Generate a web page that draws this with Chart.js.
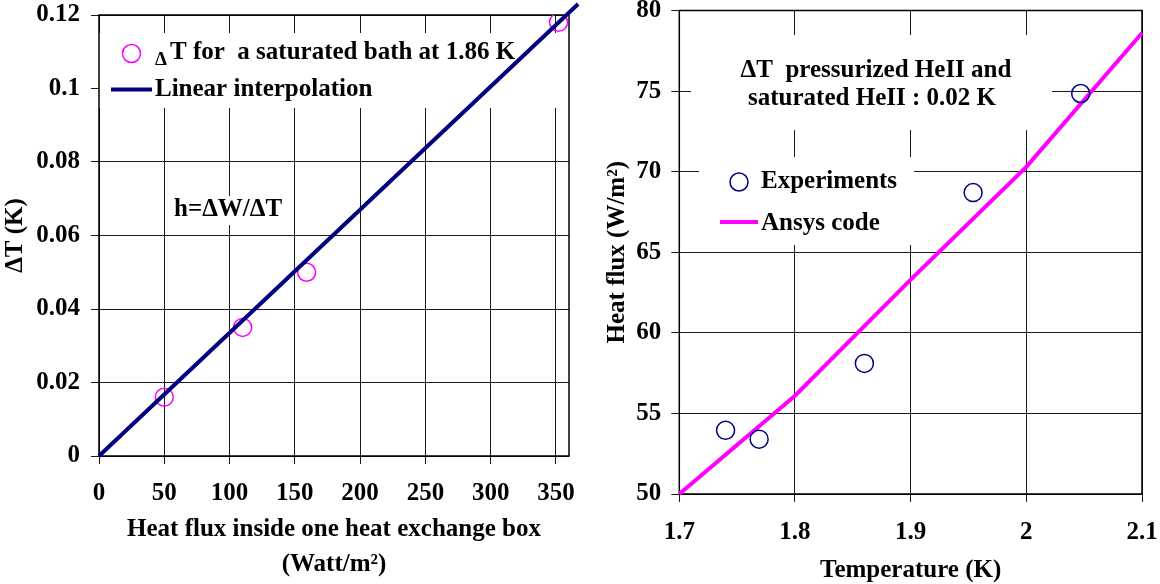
<!DOCTYPE html>
<html lang="en">
<head>
  <meta charset="UTF-8" />
  <title>Heat flux / delta T</title>
  <script src="https://cdn.jsdelivr.net/npm/chart.js"></script>
  <style>
    html, body { margin: 0; padding: 0; background: #fff; }
    .wrap { position: relative; width: 1160px; height: 584px; }
    .wrap canvas { position: absolute; top: 0; }
    #left { left: 0; }
    #right { left: 580px; }
  </style>
</head>
<body>
  <div class="wrap">
    <canvas id="left" width="580" height="584"></canvas>
    <canvas id="right" width="580" height="584"></canvas>
  </div>

  <script>
    // left chart: delta T vs heat flux
    const fluxPoints = [50, 110, 159, 352];
    const deltaTPoints = [0.016, 0.035, 0.050, 0.118];
    const fitFlux = [0, 367];
    const fitDeltaT = [0, 0.1230];
    const leftXTicks = [0, 50, 100, 150, 200, 250, 300, 350];
    const leftYTicks = [0, 0.02, 0.04, 0.06, 0.08, 0.1, 0.12];

    // right chart: heat flux vs temperature
    const expTemp = [1.74, 1.769, 1.86, 1.954, 2.047];
    const expFlux = [53.95, 53.4, 58.1, 68.7, 74.85];
    const ansysTemp = [1.7, 1.8, 1.9, 2.0, 2.1];
    const ansysFlux = [50, 56.1, 63.3, 70.3, 78.6];
    const rightXTicks = [1.7, 1.8, 1.9, 2.0, 2.1];
    const rightYTicks = [50, 55, 60, 65, 70, 75, 80];

    const FONT = 'Liberation Serif, Times New Roman, serif';
    const MAGENTA = '#FF00FF';
    const NAVY = '#000080';
    const GRID = '#1a1a1a';
    const SIZE = 25;

    const pts = (xs, ys) => xs.map((x, i) => ({ x, y: ys[i] }));
    const font = (size) => ({ family: FONT, size, weight: 'bold' });

    function fixTicks(list) {
      return (s) => { s.ticks = list.map(v => ({ value: v })); };
    }

    function axis(opts) {
      return {
        type: 'linear',
        min: opts.min,
        max: opts.max,
        afterBuildTicks: fixTicks(opts.ticks),
        afterFit: opts.fit,
        border: { display: false },
        grid: { color: GRID, lineWidth: 1, tickLength: 8, drawTicks: true },
        ticks: {
          color: '#000',
          font: font(SIZE),
          padding: opts.tickPad,
          maxRotation: 0,
          autoSkip: false,
          callback: v => String(+Number(v).toFixed(4))
        },
        title: {
          display: true,
          text: opts.title,
          color: '#000',
          font: Object.assign(font(SIZE), { lineHeight: opts.titleLH || 1.2 }),
          padding: opts.titlePad
        }
      };
    }

    // annotation drawing: white boxes below data, texts on top
    function annotations(cfg) {
      return {
        id: 'notes_' + cfg.name,
        beforeDatasetsDraw(chart) {
          const ctx = chart.ctx;
          const a = chart.chartArea;
          ctx.save();
          ctx.fillStyle = '#fff';
          cfg.boxes.forEach(b => ctx.fillRect(b[0], b[1], b[2] - b[0], b[3] - b[1]));
          ctx.strokeStyle = '#000';
          ctx.lineWidth = 1.5;
          ctx.strokeRect(a.left, a.top, a.right - a.left, a.bottom - a.top);
          ctx.restore();
        },
        afterDatasetsDraw(chart) {
          const ctx = chart.ctx;
          ctx.save();
          ctx.fillStyle = '#000';
          ctx.textBaseline = 'middle';
          cfg.texts.forEach(t => {
            ctx.font = 'bold ' + (t.size || SIZE) + 'px ' + FONT;
            ctx.textAlign = t.align || 'left';
            ctx.fillText(t.text, t.x, t.y);
          });
          cfg.markers.forEach(m => {
            ctx.beginPath();
            ctx.strokeStyle = m.color;
            if (m.type === 'circle') {
              ctx.lineWidth = 1.5;
              ctx.arc(m.x, m.y, 9, 0, Math.PI * 2);
            } else {
              ctx.lineWidth = 4;
              ctx.moveTo(m.x, m.y);
              ctx.lineTo(m.x2, m.y);
            }
            ctx.stroke();
          });
          ctx.restore();
        }
      };
    }

    new Chart(document.getElementById('left'), {
      type: 'scatter',
      data: {
        datasets: [
          {
            label: 'Linear interpolation',
            data: pts(fitFlux, fitDeltaT),
            showLine: true,
            borderColor: NAVY,
            borderWidth: 4,
            pointRadius: 0,
            clip: false
          },
          {
            label: 'ΔT for  a saturated bath at 1.86 K',
            data: pts(fluxPoints, deltaTPoints),
            pointStyle: 'circle',
            pointRadius: 9,
            pointBorderWidth: 1.5,
            borderColor: MAGENTA,
            backgroundColor: 'rgba(0,0,0,0)'
          }
        ]
      },
      options: {
        responsive: false,
        animation: false,
        layout: { padding: { top: 15, right: 11, left: 0, bottom: 0 } },
        plugins: { legend: { display: false }, tooltip: { enabled: false } },
        scales: {
          x: axis({
            min: 0, max: 360, ticks: leftXTicks, tickPad: 15,
            title: ['Heat flux inside one heat exchange box', '(Watt/m²)'],
            titleLH: 1.4, titlePad: { top: 0, bottom: 1.5 },
            fit: s => { s.height = 128; s.paddingLeft = 0; s.paddingRight = 0; }
          }),
          y: axis({
            min: 0, max: 0.12, ticks: leftYTicks, tickPad: 11,
            title: 'ΔT (K)', titlePad: { top: 1, bottom: 0 },
            fit: s => { s.width = 99; s.paddingTop = 0; s.paddingBottom = 0; }
          })
        }
      },
      plugins: [annotations({
        name: 'left',
        boxes: [[99, 33, 569, 108], [170, 196, 292, 225]],
        texts: [
          { text: 'Δ', x: 155, y: 60, size: 19 },
          { text: 'T for  a saturated bath at 1.86 K', x: 170, y: 53 },
          { text: 'Linear interpolation', x: 155, y: 90 },
          { text: 'h=ΔW/ΔT', x: 174, y: 210 }
        ],
        markers: [
          { type: 'circle', x: 131.5, y: 53.5, color: MAGENTA },
          { type: 'line', x: 111, x2: 152, y: 89.5, color: NAVY }
        ]
      })]
    });

    new Chart(document.getElementById('right'), {
      type: 'scatter',
      data: {
        datasets: [
          {
            label: 'Experiments',
            data: pts(expTemp, expFlux),
            pointStyle: 'circle',
            pointRadius: 9,
            pointBorderWidth: 1.5,
            borderColor: NAVY,
            backgroundColor: 'rgba(0,0,0,0)'
          },
          {
            label: 'Ansys code',
            data: pts(ansysTemp, ansysFlux),
            showLine: true,
            borderColor: MAGENTA,
            borderWidth: 4,
            pointRadius: 0,
            clip: false
          }
        ]
      },
      options: {
        responsive: false,
        animation: false,
        layout: { padding: { top: 10, right: 18, left: 0, bottom: 0 } },
        plugins: { legend: { display: false }, tooltip: { enabled: false } },
        scales: {
          x: axis({
            min: 1.7, max: 2.1, ticks: rightXTicks, tickPad: 16,
            title: 'Temperature (K)', titleLH: 1.0, titlePad: { top: 0, bottom: 1 },
            fit: s => { s.height = 90; s.paddingLeft = 0; s.paddingRight = 0; }
          }),
          y: axis({
            min: 50, max: 80, ticks: rightYTicks, tickPad: 10,
            title: 'Heat flux (W/m²)', titlePad: { top: 23, bottom: 0 },
            fit: s => { s.width = 99.3; s.paddingTop = 0; s.paddingBottom = 0; }
          })
        }
      },
      plugins: [annotations({
        name: 'right',
        boxes: [[111, 35, 472, 130], [119, 157, 334, 245]],
        texts: [
          { text: 'ΔT  pressurized HeII and', x: 296, y: 71, align: 'center' },
          { text: 'saturated HeII : 0.02 K', x: 292, y: 99, align: 'center' },
          { text: 'Experiments', x: 181, y: 182 },
          { text: 'Ansys code', x: 181, y: 224 }
        ],
        markers: [
          { type: 'circle', x: 159, y: 182, color: NAVY },
          { type: 'line', x: 140, x2: 178, y: 222, color: MAGENTA }
        ]
      })]
    });
  </script>
</body>
</html>
